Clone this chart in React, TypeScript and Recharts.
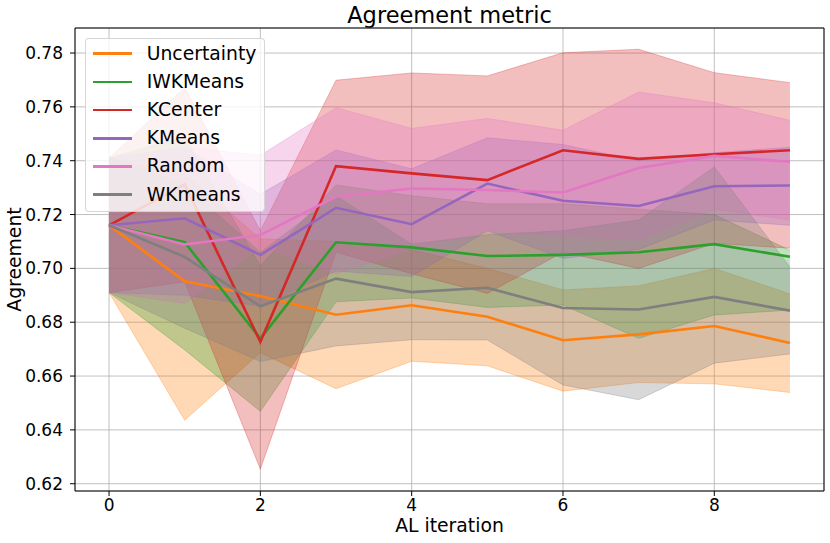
import React from "react";
import {
  ComposedChart,
  Area,
  Line,
  XAxis,
  YAxis,
  CartesianGrid,
  ReferenceLine,
  Label,
} from "recharts";

// AL iterations on the x axis
const iterations = [0, 1, 2, 3, 4, 5, 6, 7, 8, 9];

const xTicks = [0, 2, 4, 6, 8];
const yTicks = [0.62, 0.64, 0.66, 0.68, 0.7, 0.72, 0.74, 0.76, 0.78];

// mean / lower / upper of the agreement per strategy
const uncertaintyMean = [0.716, 0.6952, 0.6897, 0.6828, 0.6863, 0.682, 0.6733, 0.6755, 0.6786, 0.6723];
const uncertaintyLow = [0.691, 0.6436, 0.6687, 0.6553, 0.6655, 0.6638, 0.6544, 0.6576, 0.6571, 0.6539];
const uncertaintyHigh = [0.741, 0.735, 0.711, 0.71, 0.707, 0.7, 0.692, 0.6935, 0.7, 0.6905];

const iwkmeansMean = [0.716, 0.7097, 0.6739, 0.7097, 0.7078, 0.7046, 0.705, 0.706, 0.709, 0.7043];
const iwkmeansLow = [0.691, 0.6697, 0.6469, 0.6876, 0.689, 0.6855, 0.6864, 0.674, 0.6827, 0.6845];
const iwkmeansHigh = [0.741, 0.749, 0.701, 0.731, 0.727, 0.724, 0.724, 0.722, 0.72, 0.7067];

const kcenterMean = [0.716, 0.7312, 0.6727, 0.738, 0.7353, 0.7328, 0.7439, 0.7407, 0.7424, 0.7439];
const kcenterLow = [0.691, 0.695, 0.6254, 0.706, 0.698, 0.6907, 0.706, 0.7, 0.7093, 0.7075];
const kcenterHigh = [0.741, 0.7672, 0.714, 0.7699, 0.7726, 0.7715, 0.7801, 0.7814, 0.7727, 0.769];

const kmeansMean = [0.716, 0.7186, 0.705, 0.7225, 0.7164, 0.7315, 0.7251, 0.7232, 0.7305, 0.7308];
const kmeansLow = [0.691, 0.69, 0.686, 0.699, 0.697, 0.714, 0.7037, 0.707, 0.718, 0.716];
const kmeansHigh = [0.741, 0.745, 0.7275, 0.744, 0.737, 0.7485, 0.746, 0.74, 0.743, 0.745];

const randomMean = [0.716, 0.7089, 0.7124, 0.7266, 0.7297, 0.7291, 0.7282, 0.7373, 0.7418, 0.7396];
const randomLow = [0.691, 0.687, 0.708, 0.698, 0.707, 0.714, 0.712, 0.7105, 0.722, 0.7179];
const randomHigh = [0.741, 0.745, 0.742, 0.7597, 0.752, 0.7557, 0.7513, 0.7655, 0.7615, 0.755];

const wkmeansMean = [0.716, 0.7043, 0.6859, 0.6962, 0.6912, 0.6928, 0.6853, 0.6847, 0.6894, 0.6843];
const wkmeansLow = [0.691, 0.6778, 0.6654, 0.6712, 0.6735, 0.6734, 0.6567, 0.6512, 0.6648, 0.6682];
const wkmeansHigh = [0.741, 0.731, 0.706, 0.727, 0.709, 0.7125, 0.714, 0.718, 0.7377, 0.7005];

const series = [
  { name: "Uncertainty", color: "#ff7f0e", mean: uncertaintyMean, low: uncertaintyLow, high: uncertaintyHigh },
  { name: "IWKMeans", color: "#2ca02c", mean: iwkmeansMean, low: iwkmeansLow, high: iwkmeansHigh },
  { name: "KCenter", color: "#d62728", mean: kcenterMean, low: kcenterLow, high: kcenterHigh },
  { name: "KMeans", color: "#9467bd", mean: kmeansMean, low: kmeansLow, high: kmeansHigh },
  { name: "Random", color: "#e377c2", mean: randomMean, low: randomLow, high: randomHigh },
  { name: "WKmeans", color: "#7f7f7f", mean: wkmeansMean, low: wkmeansLow, high: wkmeansHigh },
];

const rows = iterations.map((it, i) => {
  const row: any = { it };
  series.forEach((s) => {
    row[s.name] = s.mean[i];
    row[s.name + "_band"] = [s.low[i], s.high[i]];
  });
  return row;
});

const FONT = "DejaVu Sans";
const X_DOMAIN = [-0.45, 9.45];
const Y_DOMAIN = [0.6173, 0.7893];

const XLabel = (props: any) => {
  const vb = props.viewBox;
  return (
    <text x={vb.x + vb.width / 2} y={vb.y + 40.7} textAnchor="middle" fontSize={18.8} fontFamily={FONT} fill="#000">
      AL iteration
    </text>
  );
};

const YLabel = (props: any) => {
  const vb = props.viewBox;
  const x = vb.x + 21;
  const y = vb.y + vb.height / 2;
  return (
    <text x={x} y={y} transform={`rotate(-90 ${x} ${y})`} textAnchor="middle" fontSize={18.8} fontFamily={FONT} fill="#000">
      Agreement
    </text>
  );
};

const LegendBox = () => (
  <div
    style={{
      position: "absolute",
      left: 85,
      top: 37.7,
      width: 180,
      height: 174,
      boxSizing: "border-box",
      border: "1px solid rgba(204,204,204,0.8)",
      borderRadius: 4,
      background: "rgba(255,255,255,0.8)",
      paddingTop: 0.9,
      fontFamily: FONT,
      fontSize: 18.8,
    }}
  >
    {series.map((s) => (
      <div key={s.name} style={{ height: 28.2, display: "flex", alignItems: "center" }}>
        <div style={{ width: 39, height: 2.6, marginLeft: 6.7, background: s.color }} />
        <span style={{ marginLeft: 15, lineHeight: "28.2px" }}>{s.name}</span>
      </div>
    ))}
  </div>
);

export default function App() {
  return (
    <div style={{ position: "absolute", left: 0, top: 0, width: 830, height: 543, background: "#fff", fontFamily: FONT }}>
      <div
        style={{
          position: "absolute",
          left: 75,
          top: 4.3,
          width: 749,
          textAlign: "center",
          fontSize: 22.5,
          lineHeight: 1,
          color: "#000",
        }}
      >
        Agreement metric
      </div>
      <ComposedChart width={830} height={543} data={rows} margin={{ top: 28, right: 6, bottom: 0, left: 0 }}>
        <XAxis
          dataKey="it"
          type="number"
          domain={X_DOMAIN}
          ticks={xTicks}
          allowDataOverflow
          height={52}
          tickSize={5}
          tickMargin={3}
          stroke="#000"
          tick={{ fill: "#000", fontSize: 17, fontFamily: FONT }}
        >
          <Label content={XLabel} />
        </XAxis>
        <YAxis
          type="number"
          domain={Y_DOMAIN}
          ticks={yTicks}
          allowDataOverflow
          width={75}
          tickSize={5}
          tickMargin={7}
          stroke="#000"
          tickFormatter={(v: number) => v.toFixed(2)}
          tick={{ fill: "#000", fontSize: 17, fontFamily: FONT }}
        >
          <Label content={YLabel} />
        </YAxis>
        {series.map((s) => (
          <Area
            key={s.name + "_band"}
            type="linear"
            dataKey={s.name + "_band"}
            fill={s.color}
            fillOpacity={0.3}
            stroke={s.color}
            strokeOpacity={0.3}
            strokeWidth={1}
            dot={false}
            activeDot={false}
            isAnimationActive={false}
          />
        ))}
        <CartesianGrid stroke="#b0b0b0" strokeWidth={0.8} fill="none" />
        {series.map((s) => (
          <Line
            key={s.name}
            type="linear"
            dataKey={s.name}
            stroke={s.color}
            strokeWidth={2.6}
            dot={false}
            activeDot={false}
            isAnimationActive={false}
          />
        ))}
        {/* top and right spines */}
        <ReferenceLine y={Y_DOMAIN[1]} stroke="#000" strokeWidth={1} ifOverflow="extendDomain" />
        <ReferenceLine x={X_DOMAIN[1]} stroke="#000" strokeWidth={1} ifOverflow="extendDomain" />
      </ComposedChart>
      <LegendBox />
    </div>
  );
}
